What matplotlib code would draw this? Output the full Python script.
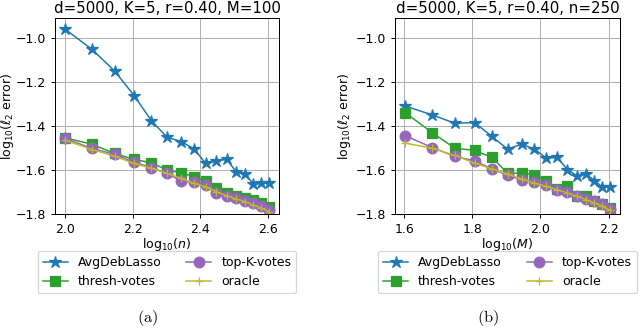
import numpy as np
import matplotlib
matplotlib.use("Agg")
import matplotlib.pyplot as plt

# left panel: sweep over n (M=100)
n_vals = [100, 120, 140, 160, 180, 200, 220, 240, 260, 280, 300, 320, 340, 360, 380, 400]
avg_n = [-0.962, -1.053, -1.151, -1.263, -1.377, -1.451, -1.471, -1.503,
         -1.569, -1.560, -1.551, -1.607, -1.620, -1.661, -1.660, -1.658]
thresh_n = [-1.454, -1.483, -1.525, -1.552, -1.567, -1.600, -1.612, -1.630,
            -1.650, -1.683, -1.705, -1.716, -1.728, -1.735, -1.750, -1.768]
topk_n = [-1.457, -1.502, -1.529, -1.565, -1.589, -1.615, -1.650, -1.656,
          -1.668, -1.702, -1.716, -1.728, -1.740, -1.750, -1.762, -1.780]
oracle_n = [-1.465, -1.507, -1.537, -1.570, -1.592, -1.615, -1.638, -1.660,
            -1.675, -1.698, -1.716, -1.731, -1.743, -1.758, -1.773, -1.788]

# right panel: sweep over M (n=250)
M_vals = [40, 48, 56, 64, 72, 80, 88, 96, 104, 112, 120, 128, 136, 144, 152, 160]
avg_M = [-1.310, -1.350, -1.388, -1.385, -1.448, -1.505, -1.483, -1.505,
         -1.546, -1.543, -1.598, -1.626, -1.617, -1.648, -1.677, -1.678]
thresh_M = [-1.340, -1.430, -1.501, -1.511, -1.543, -1.614, -1.614, -1.621,
            -1.651, -1.686, -1.674, -1.716, -1.719, -1.741, -1.752, -1.771]
topk_M = [-1.444, -1.498, -1.538, -1.558, -1.595, -1.623, -1.644, -1.656,
          -1.666, -1.689, -1.701, -1.716, -1.731, -1.741, -1.756, -1.776]
oracle_M = [-1.478, -1.501, -1.534, -1.568, -1.595, -1.618, -1.641, -1.659,
            -1.674, -1.689, -1.704, -1.719, -1.734, -1.749, -1.764, -1.782]

titles = ["d=5000, K=5, r=0.40, M=100", "d=5000, K=5, r=0.40, n=250"]
xlabels = [r"log$_{10}$($n$)", r"log$_{10}$($M$)"]
captions = [r"$\mathrm{(a)}$", r"$\mathrm{(b)}$"]

fig = plt.figure(figsize=(640 / 90, 329 / 90), dpi=90)
ax1 = fig.add_axes([0.0859, 0.349, 0.350, 0.597])
ax2 = fig.add_axes([0.617, 0.349, 0.352, 0.597])

panels = [(ax1, n_vals, avg_n, thresh_n, topk_n, oracle_n, -0.174),
          (ax2, M_vals, avg_M, thresh_M, topk_M, oracle_M, -0.187)]

for i, (ax, xv, avg, thr, topk, orc, ylab_x) in enumerate(panels):
    x = np.log10(xv)
    ax.plot(x, avg, color="tab:blue", marker="*", ms=10, lw=1.2, label="AvgDebLasso")
    ax.plot(x, thr, color="tab:green", marker="s", ms=8.5, lw=1.2, label="thresh-votes")
    ax.plot(x, topk, color="tab:purple", marker="o", ms=8.5, lw=1.2, label="top-K-votes")
    ax.plot(x, orc, color="tab:olive", marker="+", ms=6, lw=1.2, label="oracle")
    ax.set_ylim(-1.8, -0.91)
    ax.set_yticks([-1.8, -1.6, -1.4, -1.2, -1.0])
    ax.grid(True)
    ax.set_title(titles[i], fontsize=12, pad=4)
    ax.set_xlabel(xlabels[i], fontsize=10, labelpad=0)
    ax.set_ylabel(r"log$_{10}$($\ell_2$ error)", fontsize=10)
    ax.yaxis.set_label_coords(ylab_x, 0.5)
    ax.tick_params(labelsize=10)
    ax.legend(loc="upper center", bbox_to_anchor=(0.5, -0.187), ncol=2,
              borderaxespad=0, fontsize=10)

ax1.set_xticks([2.0, 2.2, 2.4, 2.6])
ax2.set_xticks([1.6, 1.8, 2.0, 2.2])

fig.text(148 / 640, 1 - 318 / 329, captions[0], ha="center", va="center",
         fontsize=13, math_fontfamily="cm")
fig.text(488 / 640, 1 - 318 / 329, captions[1], ha="center", va="center",
         fontsize=13, math_fontfamily="cm")

fig.savefig("out.png", dpi=90)
